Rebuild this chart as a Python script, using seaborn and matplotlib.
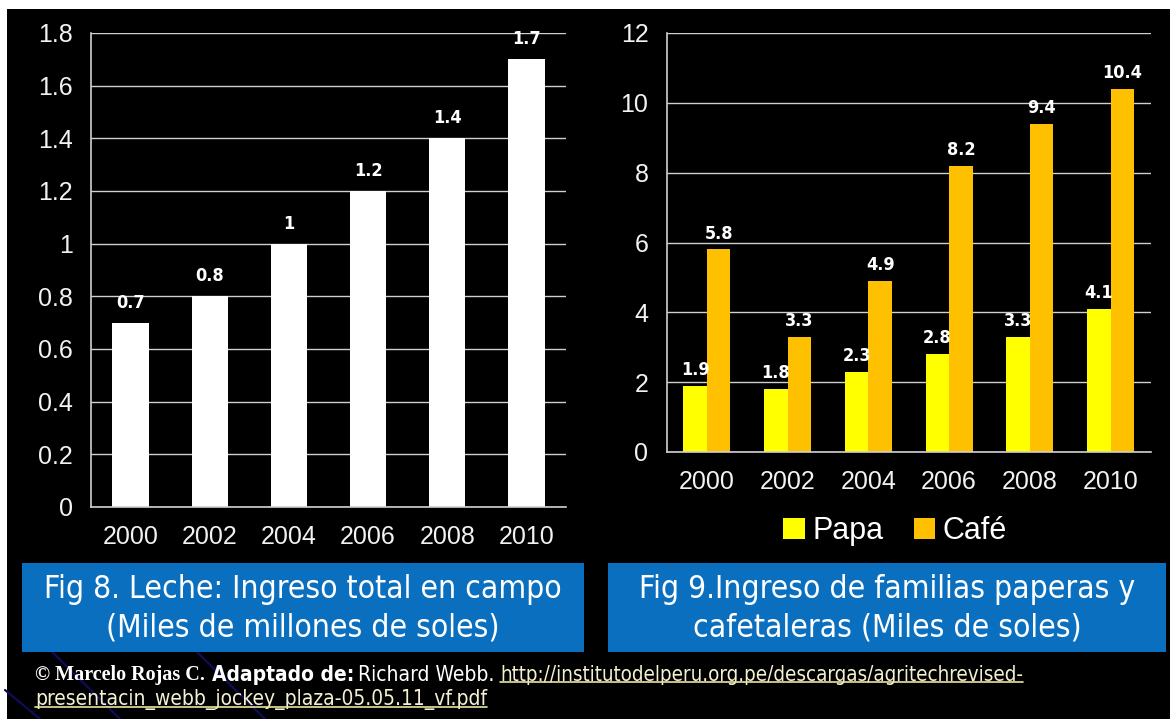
import numpy as np
import pandas as pd
import matplotlib
matplotlib.use("Agg")
import matplotlib.pyplot as plt
import seaborn as sns
from matplotlib.patches import Rectangle
from matplotlib.lines import Line2D

# ---------------- data ----------------
years = ["2000", "2002", "2004", "2006", "2008", "2010"]
leche = [0.7, 0.8, 1.0, 1.2, 1.4, 1.7]
leche_labels = ["0.7", "0.8", "1", "1.2", "1.4", "1.7"]
papa = [1.9, 1.8, 2.3, 2.8, 3.3, 4.1]
cafe = [5.8, 3.3, 4.9, 8.2, 9.4, 10.4]
series_names = ["Papa", "Café"]
left_yticks = [0, 0.2, 0.4, 0.6, 0.8, 1.0, 1.2, 1.4, 1.6, 1.8]
left_yticklabels = ["0", "0.2", "0.4", "0.6", "0.8", "1", "1.2", "1.4", "1.6", "1.8"]
right_yticks = [0, 2, 4, 6, 8, 10, 12]
caption_left = "Fig 8. Leche: Ingreso total en campo\n(Miles de millones de soles)"
caption_right = "Fig 9.Ingreso de familias paperas y\ncafetaleras (Miles de soles)"
footer_author = "© Marcelo Rojas C."
footer_adapt = "Adaptado de:"
footer_source = "Richard Webb."
footer_url1 = "http://institutodelperu.org.pe/descargas/agritechrevised-"
footer_url2 = "presentacin_webb_jockey_plaza-05.05.11_vf.pdf"

sns.set_theme(style="dark")
SANS = ["Liberation Sans", "DejaVu Sans"]
COND = ["DejaVu Sans"]
plt.rcParams["font.family"] = SANS

W, H = 1170, 719
fig = plt.figure(figsize=(W / 100, H / 100), dpi=100, facecolor="white")

# background layer in pixel coordinates
bg = fig.add_axes([0, 0, 1, 1], zorder=-10)
bg.set_xlim(0, W)
bg.set_ylim(H, 0)
bg.axis("off")
bg.add_patch(Rectangle((7, 9), W - 7, H - 9, facecolor="black", edgecolor="none", zorder=0))
# faint slide decoration (dark blue diagonals bottom-left)
for (xa, ya, xb, yb) in [(40, 640, 120, 719), (195, 650, 265, 719), (5, 690, 40, 719)]:
    bg.add_line(Line2D([xa, xb], [ya, yb], color="#0d0d5a", linewidth=1.6, zorder=0.5))
# caption boxes
box_col = "#0b6fc0"
bg.add_patch(Rectangle((22, 563), 562, 89, facecolor=box_col, edgecolor="none", zorder=1))
bg.add_patch(Rectangle((608, 563), 558, 89, facecolor=box_col, edgecolor="none", zorder=1))

grid_col = "#d0d0d0"
txt_col = "#f2f2f2"


def style_axes(ax, ymax, yticks, yticklabels, xlabel_pad):
    ax.set_facecolor("black")
    ax.set_ylim(0, ymax)
    ax.set_xlim(-0.5, len(years) - 0.5)
    ax.set_yticks(yticks)
    ax.set_yticklabels(yticklabels, color=txt_col, fontsize=18, family=SANS)
    ax.yaxis.grid(True, color=grid_col, linewidth=1.0)
    ax.xaxis.grid(False)
    ax.set_axisbelow(True)
    for s in ["top", "right"]:
        ax.spines[s].set_visible(False)
    for s in ["left", "bottom"]:
        ax.spines[s].set_visible(True)
        ax.spines[s].set_color(grid_col)
        ax.spines[s].set_linewidth(1.2)
    # boundary ticks (major, no label) + centred labels (minor, no tick)
    ax.set_xticks(np.arange(-0.5, len(years), 1.0))
    ax.set_xticklabels([])
    ax.set_xticks(np.arange(len(years)), minor=True)
    ax.set_xticklabels(years, minor=True, color=txt_col, fontsize=18, family=SANS)
    ax.tick_params(axis="x", which="major", length=8, width=1.2, color=grid_col, direction="out")
    ax.tick_params(axis="x", which="minor", length=0, pad=xlabel_pad)
    ax.tick_params(axis="y", length=8, width=1.2, color=grid_col, direction="out", pad=5)
    ax.set_xlabel("")
    ax.set_ylabel("")


# ---------------- left chart ----------------
axL = fig.add_axes([91 / W, 1 - 507 / H, (566 - 91) / W, (507 - 33) / H])
dfL = pd.DataFrame({"year": years, "value": leche})
sns.barplot(data=dfL, x="year", y="value", color="white", saturation=1, width=0.46,
            ax=axL, edgecolor="none")
style_axes(axL, 1.8, left_yticks, left_yticklabels, 13)
for i, (v, lab) in enumerate(zip(leche, leche_labels)):
    axL.annotate(lab, (i, v), xytext=(0, 8), textcoords="offset points", ha="center",
                 va="bottom", color="white", fontsize=13, fontweight="bold",
                 family=COND, fontstretch="condensed")

# ---------------- right chart ----------------
axR = fig.add_axes([666.5 / W, 1 - 452 / H, (1151 - 666.5) / W, (452 - 33) / H])
dfR = pd.DataFrame({
    "year": years * 2,
    "value": papa + cafe,
    "serie": [series_names[0]] * len(years) + [series_names[1]] * len(years),
})
sns.barplot(data=dfR, x="year", y="value", hue="serie", hue_order=series_names,
            palette=["#ffff00", "#ffc000"], saturation=1, width=0.58, ax=axR,
            edgecolor="none", legend=True)
style_axes(axR, 12, right_yticks, [str(t) for t in right_yticks], 13)
for cont in axR.containers:
    labs = [f"{b.get_height():.1f}" for b in cont]
    axR.bar_label(cont, labels=labs, padding=5, color="white", fontsize=13,
                  fontweight="bold", family=COND, fontstretch="condensed")
leg = axR.legend(loc="center", bbox_to_anchor=(0.472, -0.189), ncol=2, frameon=False,
                 fontsize=22, handlelength=0.7, handleheight=0.7, handletextpad=0.25,
                 columnspacing=1.0, borderpad=0)
for t in leg.get_texts():
    t.set_color("white")

# ---------------- captions ----------------
bg.text(303, 609, caption_left, ha="center", va="center", color="white", fontsize=22.8,
        family=COND, fontstretch="condensed", linespacing=1.33, zorder=3)
bg.text(887, 609, caption_right, ha="center", va="center", color="white", fontsize=22.8,
        family=COND, fontstretch="condensed", linespacing=1.33, zorder=3)

# ---------------- footer ----------------
t1 = bg.text(35, 680, footer_author, ha="left", va="baseline", color="white", fontsize=14.5,
             fontweight="bold", family=["Liberation Serif", "DejaVu Serif"], zorder=3)
t2 = bg.annotate(footer_adapt, xy=(1, 0), xycoords=t1, xytext=(5, 0), textcoords="offset points",
                 ha="left", va="bottom", color="white", fontsize=15, fontweight="bold",
                 family=COND, fontstretch="condensed", zorder=3)
t3 = bg.annotate(footer_source, xy=(1, 0), xycoords=t2, xytext=(3, 0), textcoords="offset points",
                 ha="left", va="bottom", color="white", fontsize=15,
                 family=COND, fontstretch="condensed", zorder=3)
url_col = "#f4f1d0"
t4 = bg.annotate(footer_url1, xy=(1, 0), xycoords=t3, xytext=(4, 0), textcoords="offset points",
                 ha="left", va="bottom", color=url_col, fontsize=14.8,
                 family=COND, fontstretch="condensed", zorder=3)
t5 = bg.text(35, 705, footer_url2, ha="left", va="baseline", color=url_col, fontsize=15,
             family=COND, fontstretch="condensed", zorder=3)

fig.canvas.draw()
inv = bg.transData.inverted()
for t in (t4, t5):
    bb = t.get_window_extent()
    (x0, y0), (x1, y1) = inv.transform([(bb.x0, bb.y0), (bb.x1, bb.y1)])
    yb = max(y0, y1) - 3
    bg.add_line(Line2D([x0, x1], [yb, yb], color="#e8e4a0", linewidth=1.2, zorder=3))

fig.savefig("out.png", dpi=100, facecolor=fig.get_facecolor())
